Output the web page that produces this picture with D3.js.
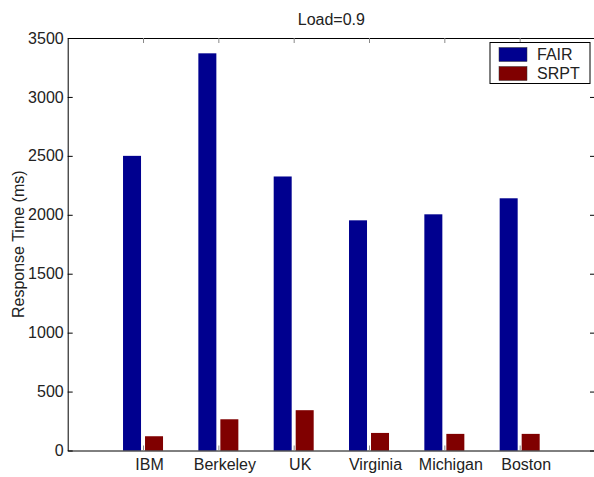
<!DOCTYPE html>
<html>
<head>
<meta charset="utf-8">
<script src="https://cdn.jsdelivr.net/npm/d3@7"></script>
<style>
  body { margin: 0; background: #fff; }
  text { font-family: "Liberation Sans", Arial, sans-serif; }
</style>
</head>
<body>
<div id="chart"></div>
<script>
const categories = ['IBM', 'Berkeley', 'UK', 'Virginia', 'Michigan', 'Boston'];
const fairValues = [2500, 3370, 2325, 1953, 2004, 2140];
const srptValues = [121, 265, 342, 149, 141, 141];
const seriesNames = ['FAIR', 'SRPT'];
const yTicks = [0, 500, 1000, 1500, 2000, 2500, 3000, 3500];

let width = 594,
    height = 477,
    plotLeft = 67.7,
    plotRight = 595,
    plotTop = 38,
    plotBottom = 450.5,
    barWidth = 18,
    barGap = 2,
    fontSize = 16;

const colors = ['#00008f', '#800000'];

const svg = d3.select('#chart')
    .append('svg')
        .attr('width', width)
        .attr('height', height);

// categories sit at 1..6 on a 0..7 axis
let xScale = d3.scaleLinear()
    .domain([0, categories.length + 1])
    .range([plotLeft, plotRight]);

let yScale = d3.scaleLinear()
    .domain([0, 3500])
    .range([plotBottom, plotTop]);

// bars
const series = [fairValues, srptValues];
series.forEach(function(vals, s) {
    svg.append('g')
        .selectAll('rect').data(vals)
        .enter().append('rect')
            .attr('x', function(d, i) {
                let c = xScale(i + 1);
                return s === 0 ? c - barGap - barWidth : c + barGap;
            })
            .attr('y', function(d) { return yScale(d); })
            .attr('width', barWidth)
            .attr('height', function(d) { return yScale(0) - yScale(d); })
            .style('fill', colors[s]);
});

// left axis
svg.append('g')
    .attr('transform', 'translate(' + plotLeft + ',0)')
    .call(d3.axisLeft(yScale).tickValues(yTicks).tickFormat(d3.format('d'))
        .tickSizeInner(-5).tickSizeOuter(0).tickPadding(4))
    .call(function(g) {
        g.select('.domain').attr('stroke', '#000');
        g.selectAll('.tick line').attr('stroke', '#000');
        g.selectAll('text').attr('font-size', fontSize).attr('fill', '#222');
    });

// right axis ticks
svg.append('g')
    .attr('transform', 'translate(' + plotRight + ',0)')
    .call(d3.axisRight(yScale).tickValues(yTicks).tickSizeInner(-5).tickSizeOuter(0).tickFormat(''))
    .call(function(g) {
        g.select('.domain').attr('stroke', '#000');
        g.selectAll('.tick line').attr('stroke', '#000');
    });

// bottom axis
const xTickVals = categories.map(function(d, i) { return i + 1; });
svg.append('g')
    .attr('transform', 'translate(0,' + plotBottom + ')')
    .call(d3.axisBottom(xScale).tickValues(xTickVals).tickSizeInner(-5).tickSizeOuter(0).tickPadding(8)
        .tickFormat(function(d) { return categories[d - 1]; }))
    .call(function(g) {
        g.select('.domain').attr('stroke', '#000');
        g.selectAll('.tick line').attr('stroke', '#888');
        // labels sit a little right of the ticks in the original
        g.selectAll('text').attr('font-size', fontSize).attr('fill', '#222').attr('dx', 6);
    });

// top axis
svg.append('g')
    .attr('transform', 'translate(0,' + plotTop + ')')
    .call(d3.axisTop(xScale).tickValues(xTickVals).tickSizeInner(-5).tickSizeOuter(0).tickFormat(''))
    .call(function(g) {
        g.select('.domain').attr('stroke', '#000');
        g.selectAll('.tick line').attr('stroke', '#888');
    });

// title
svg.append('text')
    .attr('x', (plotLeft + plotRight) / 2)
    .attr('y', 25)
    .attr('text-anchor', 'middle')
    .attr('font-size', fontSize)
    .style('fill', '#222')
    .text('Load=0.9');

// y label
svg.append('text')
    .attr('transform', 'translate(24,' + ((plotTop + plotBottom) / 2) + ') rotate(-90)')
    .attr('text-anchor', 'middle')
    .attr('font-size', fontSize)
    .style('fill', '#222')
    .text('Response Time (ms)');

// legend
const legend = svg.append('g').attr('transform', 'translate(490,42.5)');
legend.append('rect')
    .attr('width', 100)
    .attr('height', 41)
    .style('fill', '#fff')
    .style('stroke', '#000');
seriesNames.forEach(function(name, i) {
    legend.append('rect')
        .attr('x', 9)
        .attr('y', 5 + i * 19)
        .attr('width', 28)
        .attr('height', 14)
        .style('fill', colors[i])
        .style('stroke', '#333')
        .style('stroke-width', 0.5);
    legend.append('text')
        .attr('x', 47)
        .attr('y', 17.5 + i * 19)
        .attr('font-size', fontSize)
        .style('fill', '#222')
        .text(name);
});
</script>
</body>
</html>
